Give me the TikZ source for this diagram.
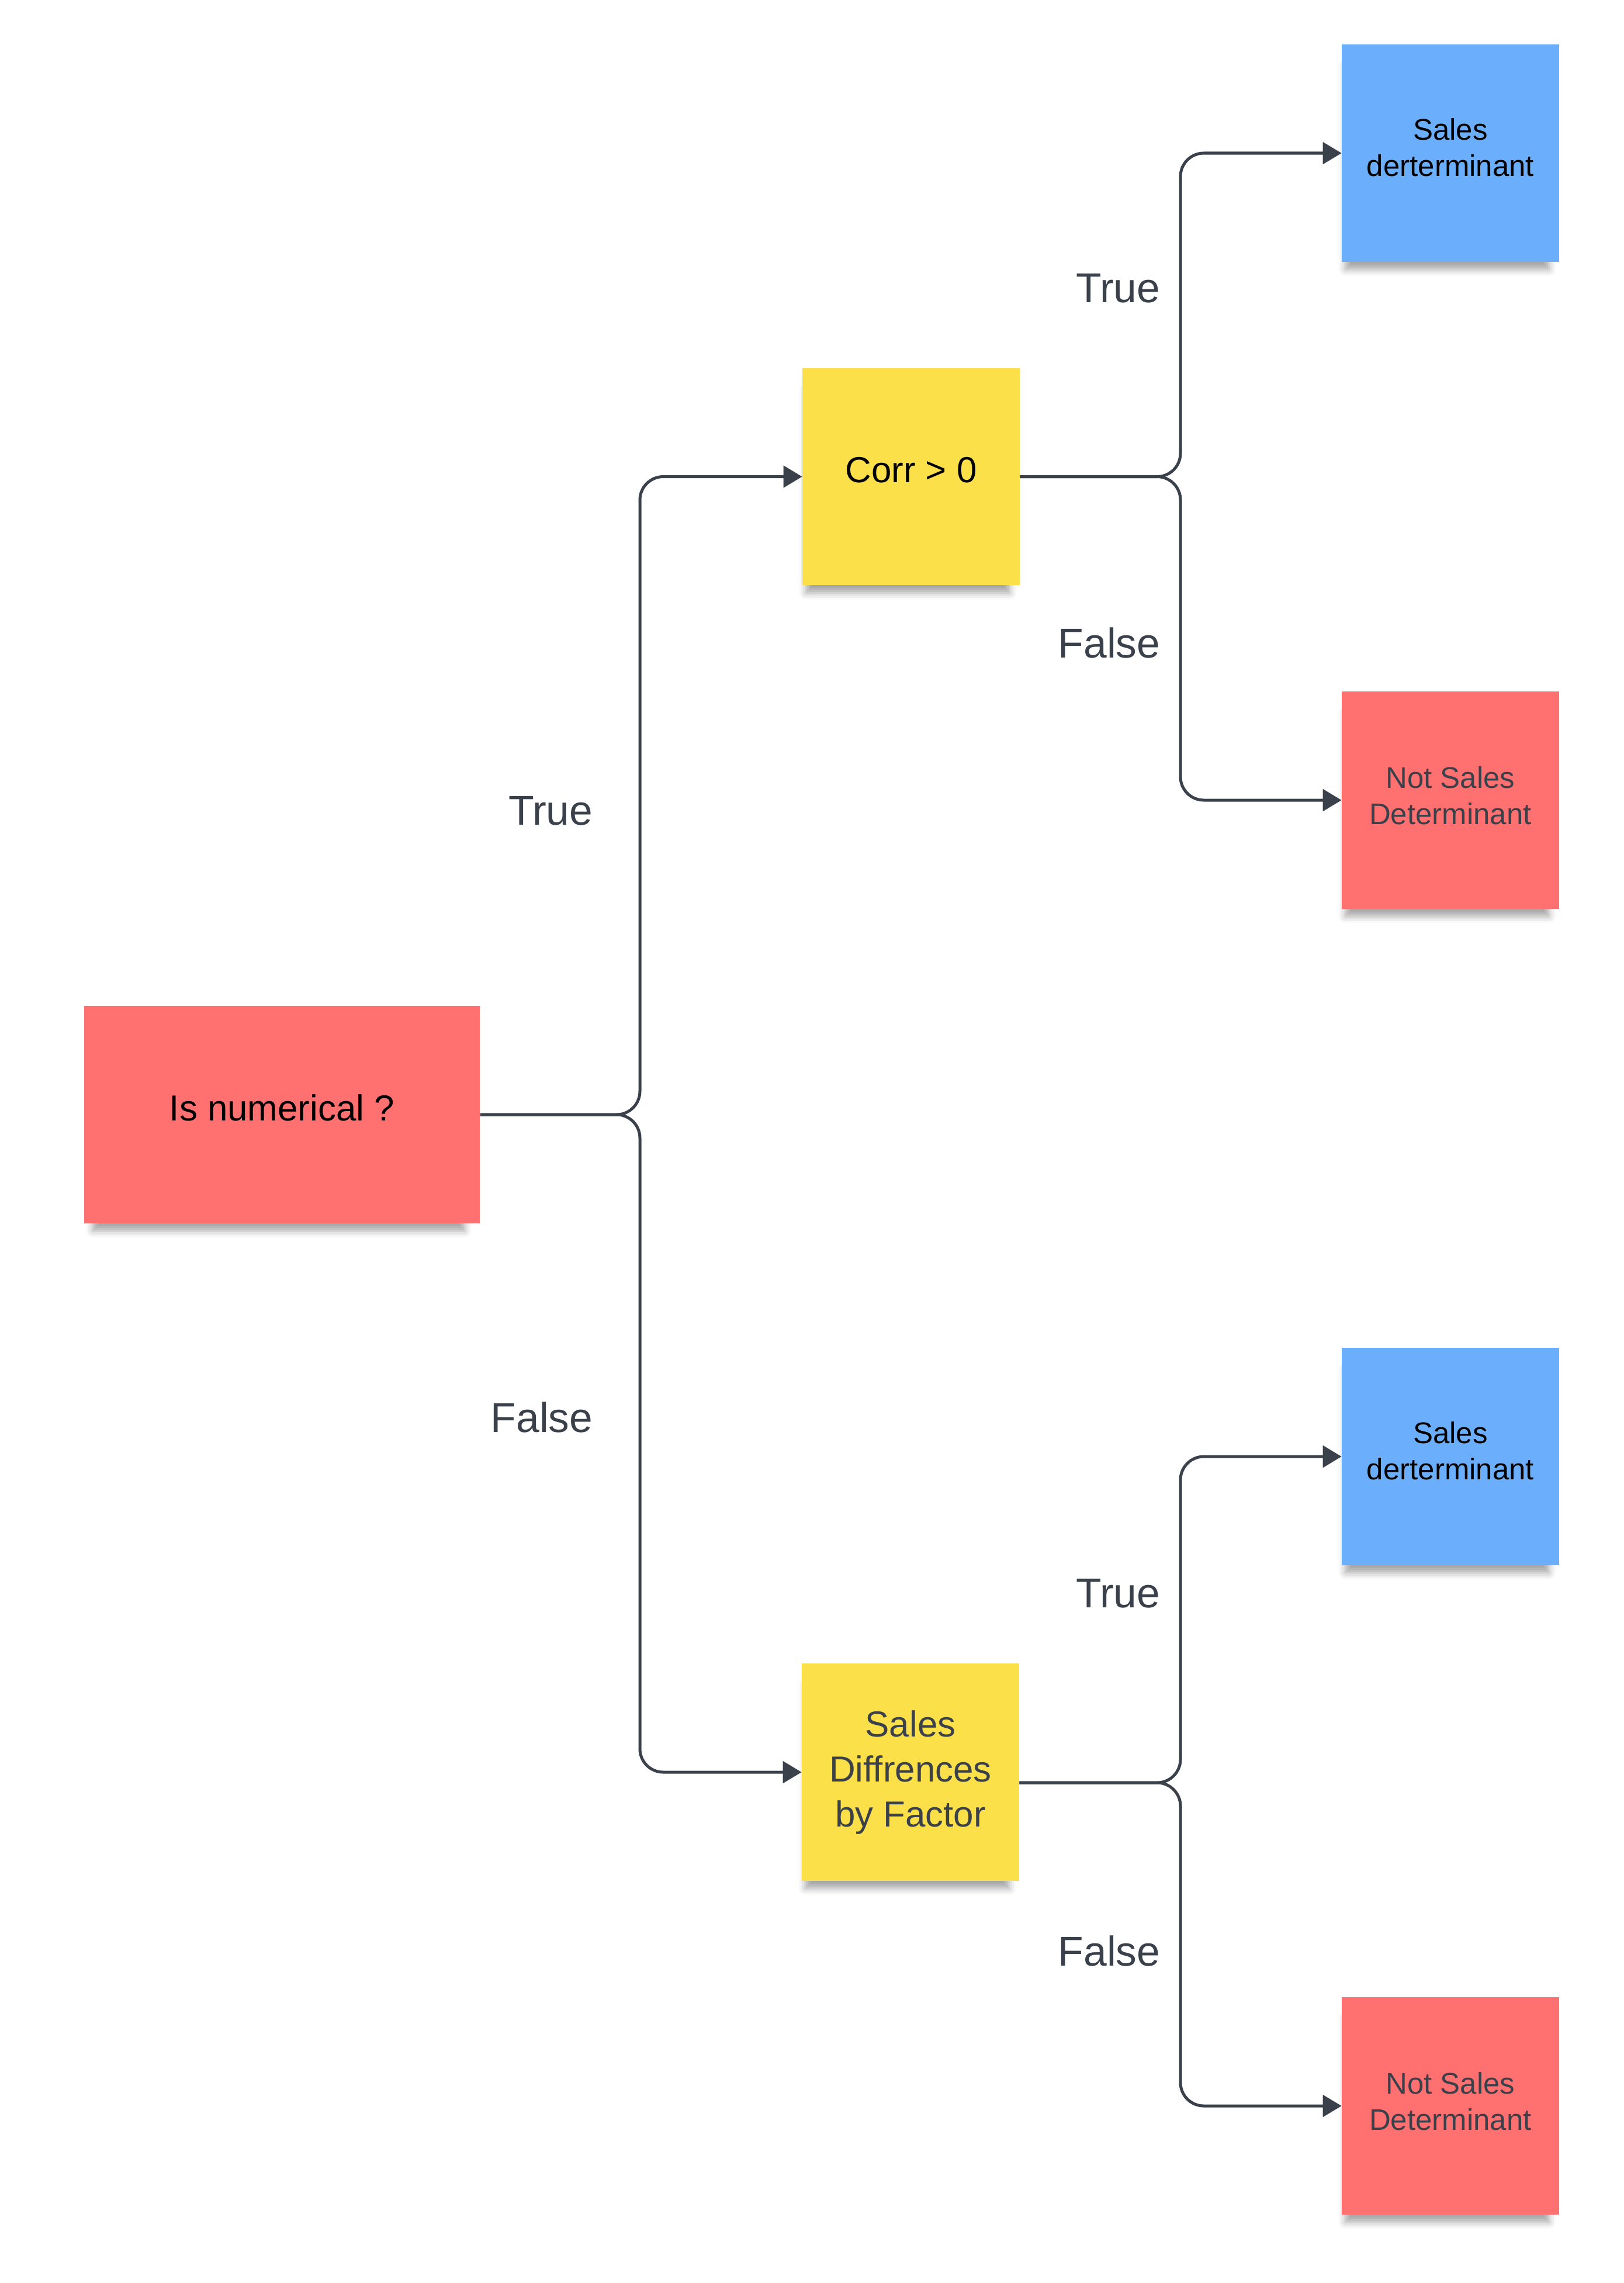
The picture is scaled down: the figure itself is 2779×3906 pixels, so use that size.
\documentclass[tikz,border=0pt]{standalone}
\usepackage{fontspec}
\setmainfont{Liberation Sans}
\usetikzlibrary{arrows.meta,shadows.blur}
\definecolor{ink}{HTML}{3A414A}
\definecolor{stickyred}{HTML}{FE7170}
\definecolor{stickyyellow}{HTML}{FCE04A}
\definecolor{stickyblue}{HTML}{6BAFFC}
\tikzset{
  note/.style={rectangle, inner sep=0pt, minimum width=3.71cm, minimum height=3.71cm,
    align=center, font=\fontsize{14.5}{17.6}\selectfont,
    blur shadow={shadow xshift=-0.06cm, shadow yshift=-0.26cm, shadow scale=0.94,
      shadow blur radius=0.12cm, shadow opacity=35}},
  bigtext/.style={font=\fontsize{17.6}{21.9}\selectfont},
  conn/.style={draw=ink, line width=0.05cm, rounded corners=0.4cm},
  arr/.style={-{Triangle[length=0.32cm,width=0.37cm]}},
  lbl/.style={anchor=east, text=ink, inner sep=0pt, font=\fontsize{20.3}{24}\selectfont},
}
\begin{document}
\begin{tikzpicture}[x=0.01cm,y=-0.01cm]
\useasboundingbox (0,0) rectangle (2779,3906);

% nodes
\node[note, bigtext, fill=stickyred, minimum width=6.77cm, text depth=0.24cm] (A) at (482.5,1907) {Is numerical ?};
\node[note, bigtext, fill=stickyyellow, text depth=0.24cm] (B) at (1559,815.5) {Corr > 0};
\node[note, bigtext, fill=stickyyellow, text=ink] (C) at (1558,3032) {Sales\\Diffrences\\by Factor};
\node[note, fill=stickyblue, text depth=0.2cm] (D1) at (2482,262) {Sales\\derterminant};
\node[note, fill=stickyred, text=ink, text depth=0.16cm] (D2) at (2482,1369) {Not Sales\\Determinant};
\node[note, fill=stickyblue, text depth=0.2cm] (D3) at (2482,2492) {Sales\\derterminant};
\node[note, fill=stickyred, text=ink, text depth=0.16cm] (D4) at (2482,3603) {Not Sales\\Determinant};

% trunk coordinates
\coordinate (t1) at (1095,1907);
\coordinate (t2) at (2020,815.5);
\coordinate (t3) at (2020,3050);
\coordinate (Cout) at ([yshift=-0.18cm]C.east);

% connectors
\draw[conn,arr] (A.east) -| (t1 |- B.west) -- (B.west);
\draw[conn,arr] (A.east) -| (t1 |- C.west) -- (C.west);
\draw[conn,arr] (B.east) -| (t2 |- D1.west) -- (D1.west);
\draw[conn,arr] (B.east) -| (t2 |- D2.west) -- (D2.west);
\draw[conn,arr] (Cout) -| (t3 |- D3.west) -- (D3.west);
\draw[conn,arr] (Cout) -| (t3 |- D4.west) -- (D4.west);

% labels
\node[lbl] (l1) at (1015,1387) {True};
\node[lbl] (l2) at (1015,2425) {False};
\node[lbl] (l3) at (1986,493) {True};
\node[lbl] (l4) at (1986,1100) {False};
\node[lbl] (l5) at (1986,2726) {True};
\node[lbl] (l6) at (1986,3338) {False};
\end{tikzpicture}
\end{document}
